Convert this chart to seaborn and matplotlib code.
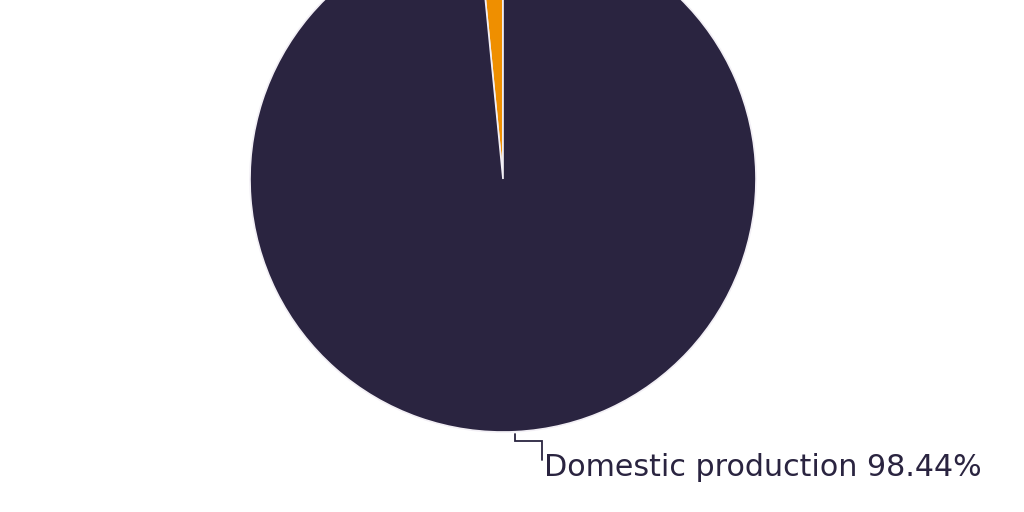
import numpy as np
import matplotlib
matplotlib.use("Agg")
import matplotlib.pyplot as plt
import seaborn as sns

# --- Data ---
sources = ["Imports", "Domestic production"]
shares = [1.56, 98.44]
colors = ["#ef8f00", "#2a2440"]

sns.set_theme(style="white")
plt.rcParams['font.family'] = ['DejaVu Sans']

fig = plt.figure(figsize=(10.24, 5.12), dpi=100)
ax = fig.add_axes([0, 0, 1, 1])

cx, cy, r = 503, 512 - 179, 253
wedges, _ = ax.pie(shares, colors=colors, startangle=90, counterclock=True,
                   center=(cx, cy), radius=r,
                   wedgeprops=dict(edgecolor="#f2eff5", linewidth=1.2))
ax.set_xlim(0, 1024)
ax.set_ylim(0, 512)
ax.set_aspect("equal")
ax.axis("off")

# --- Leader line + label for the domestic slice ---
w = wedges[1]
mid = np.deg2rad((w.theta1 + w.theta2) / 2)
x0 = cx + r * np.cos(mid)
y0 = cy + r * np.sin(mid)
pts_x = [x0, x0, x0 + 27, x0 + 27]
pts_y = [y0 - 2, y0 - 9, y0 - 9, y0 - 28]
ax.plot(pts_x, pts_y, color="#2a2440", lw=1.3, solid_joinstyle="miter")
ax.text(x0 + 29, y0 - 36, f"{sources[1]} {shares[1]:.2f}%",
        ha="left", va="center", fontsize=21.7, color="#2a2440")

fig.savefig("out.png", dpi=100)
